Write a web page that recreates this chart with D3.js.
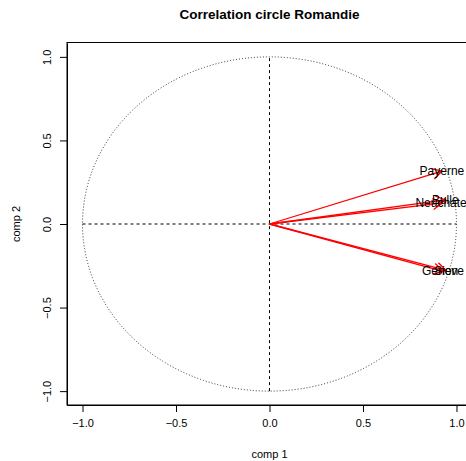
<!DOCTYPE html>
<html><head><meta charset="utf-8">
<script src="https://cdn.jsdelivr.net/npm/d3@7"></script>
<style>body{margin:0;background:#fff}svg{display:block;font-family:"Liberation Sans",Arial,sans-serif}</style>
</head><body>
<svg id="c" width="466" height="461"></svg>
<script>
const stations = ["Payerne","Neuchatel","Bulle","Geneve","Sion"];
const comp1 = [0.922, 0.925, 0.940, 0.928, 0.945];
const comp2 = [0.317, 0.126, 0.144, -0.283, -0.278];
const ticks = [-1.0, -0.5, 0.0, 0.5, 1.0];
const tickLabels = ["\u22121.0", "\u22120.5", "0.0", "0.5", "1.0"];

const svg = d3.select("#c");
const x = d3.scaleLinear().domain([-1.083, 1.083]).range([67, 472]);
const y = d3.scaleLinear().domain([-1.083, 1.083]).range([405, 43]);

// box
svg.append("rect").attr("x", 67).attr("y", 42.5).attr("width", 405).attr("height", 362.5)
  .attr("fill", "none").attr("stroke", "#000").attr("stroke-width", 1);

// axes
const xa = svg.append("g").attr("transform", "translate(0,405)")
  .call(d3.axisBottom(x).tickValues(ticks).tickSize(7).tickSizeOuter(0).tickPadding(5)
    .tickFormat((d,i) => tickLabels[i]));
const ya = svg.append("g").attr("transform", "translate(67,0)")
  .call(d3.axisLeft(y).tickValues(ticks).tickSize(7).tickSizeOuter(0).tickPadding(5)
    .tickFormat((d,i) => tickLabels[i]));
[xa, ya].forEach(g => {
  g.select(".domain").attr("stroke", "#000");
  g.selectAll("text").attr("font-size", 11).attr("fill", "#000")
    .attr("font-family", "Liberation Sans, Arial, sans-serif");
});
xa.selectAll("text").attr("dy", "0.95em");
ya.selectAll(".tick text").attr("transform", "rotate(-90)")
  .attr("x", 0).attr("y", -16).attr("dy", 0).attr("text-anchor", "middle");

// circle
svg.append("ellipse").attr("cx", x(0)).attr("cy", y(0))
  .attr("rx", x(1) - x(0)).attr("ry", y(0) - y(1))
  .attr("fill", "none").attr("stroke", "#000").attr("stroke-width", 0.8)
  .attr("stroke-dasharray", "1,2");

// dashed zero lines
svg.append("line").attr("x1", x(-1)).attr("x2", x(1)).attr("y1", y(0)).attr("y2", y(0))
  .attr("stroke", "#000").attr("stroke-dasharray", "3,3");
svg.append("line").attr("x1", x(0)).attr("x2", x(0)).attr("y1", y(-1)).attr("y2", y(1))
  .attr("stroke", "#000").attr("stroke-dasharray", "3,3");

// arrows
const headLen = 11, headAng = Math.PI / 6;
stations.forEach((s, i) => {
  const x0 = x(0), y0 = y(0), x1 = x(comp1[i]), y1 = y(comp2[i]);
  const a = Math.atan2(y1 - y0, x1 - x0);
  const p = d3.path();
  p.moveTo(x0, y0); p.lineTo(x1, y1);
  p.moveTo(x1 - headLen * Math.cos(a - headAng), y1 - headLen * Math.sin(a - headAng));
  p.lineTo(x1, y1);
  p.lineTo(x1 - headLen * Math.cos(a + headAng), y1 - headLen * Math.sin(a + headAng));
  svg.append("path").attr("d", p.toString()).attr("fill", "none")
    .attr("stroke", "red").attr("stroke-width", 1.3);
});
stations.forEach((s, i) => {
  svg.append("text").attr("x", x(comp1[i])).attr("y", y(comp2[i]))
    .attr("text-anchor", "middle").attr("dy", "0.35em").attr("font-size", 12)
    .attr("fill", "#000").text(s);
});

// titles
svg.append("text").attr("x", 269.5).attr("y", 19).attr("text-anchor", "middle")
  .attr("font-size", 13.5).attr("font-weight", "bold").text("Correlation circle Romandie");
svg.append("text").attr("x", 269.5).attr("y", 458).attr("text-anchor", "middle")
  .attr("font-size", 11).text("comp 1");
svg.append("text").attr("transform", "translate(20,224) rotate(-90)").attr("text-anchor", "middle")
  .attr("font-size", 11).text("comp 2");
</script>
</body></html>
